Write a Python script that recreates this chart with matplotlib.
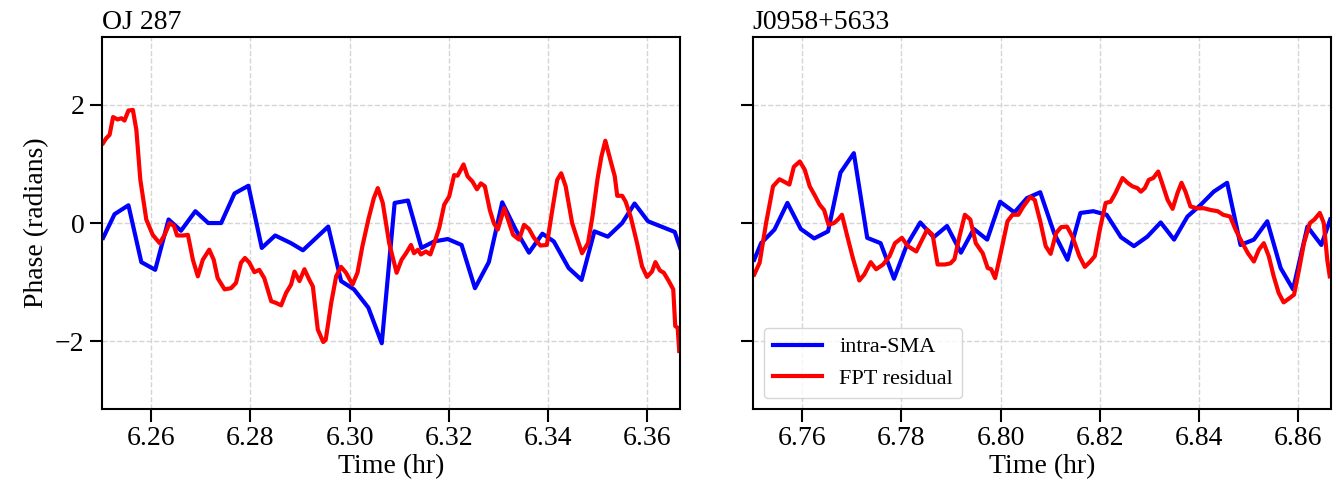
import numpy as np
import matplotlib
matplotlib.use('Agg')
import matplotlib.pyplot as plt

plt.rcParams['font.family'] = ['Liberation Serif', 'DejaVu Serif']

# OJ 287 -- intra-SMA phase
t_oj_sma = [6.2503, 6.2526, 6.2554, 6.2580, 6.2608, 6.2635, 6.2660, 6.2689,
            6.2715, 6.2741, 6.2768, 6.2796, 6.2823, 6.2850, 6.2882, 6.2906,
            6.2957, 6.2983, 6.3009, 6.3038, 6.3065, 6.3091, 6.3118, 6.3145,
            6.3171, 6.3198, 6.3226, 6.3253, 6.3281, 6.3308, 6.3335, 6.3362,
            6.3389, 6.3412, 6.3442, 6.3468, 6.3494, 6.3521, 6.3550, 6.3575,
            6.3602, 6.3629, 6.3656, 6.3667]
p_oj_sma = [-0.25, 0.15, 0.30, -0.66, -0.79, 0.06, -0.13, 0.20,
            0.00, 0.00, 0.50, 0.63, -0.42, -0.21, -0.34, -0.46,
            -0.06, -0.98, -1.12, -1.43, -2.03, 0.34, 0.38, -0.42,
            -0.31, -0.27, -0.37, -1.10, -0.66, 0.35, -0.11, -0.50,
            -0.18, -0.31, -0.76, -0.96, -0.14, -0.23, 0.00, 0.33,
            0.03, -0.06, -0.15, -0.42]

# OJ 287 -- FPT residual phase
t_oj_fpt = [6.2503, 6.2509, 6.2516, 6.2523, 6.2532, 6.2540, 6.2546, 6.2554,
            6.2563, 6.2570, 6.2578, 6.2590, 6.2603, 6.2617, 6.2627, 6.2637,
            6.2646, 6.2652, 6.2664, 6.2674, 6.2684, 6.2694, 6.2704, 6.2717,
            6.2726, 6.2734, 6.2748, 6.2761, 6.2771, 6.2781, 6.2789, 6.2798,
            6.2808, 6.2818, 6.2828, 6.2842, 6.2852, 6.2862, 6.2872, 6.2882,
            6.2889, 6.2899, 6.2909, 6.2919, 6.2926, 6.2936, 6.2947, 6.2952,
            6.2963, 6.2973, 6.2983, 6.2993, 6.3006, 6.3016, 6.3026, 6.3038,
            6.3049, 6.3057, 6.3067, 6.3080, 6.3095, 6.3105, 6.3114, 6.3124,
            6.3130, 6.3138, 6.3144, 6.3154, 6.3163, 6.3171, 6.3181, 6.3191,
            6.3201, 6.3211, 6.3218, 6.3230, 6.3238, 6.3248, 6.3257, 6.3265,
            6.3273, 6.3283, 6.3291, 6.3299, 6.3312, 6.3322, 6.3330, 6.3342,
            6.3352, 6.3362, 6.3372, 6.3385, 6.3398, 6.3409, 6.3419, 6.3427,
            6.3436, 6.3449, 6.3461, 6.3469, 6.3481, 6.3490, 6.3500, 6.3508,
            6.3516, 6.3526, 6.3535, 6.3540, 6.3550, 6.3557, 6.3567, 6.3580,
            6.3590, 6.3600, 6.3610, 6.3617, 6.3626, 6.3634, 6.3644, 6.3653,
            6.3657, 6.3662, 6.3665]
p_oj_fpt = [1.35, 1.43, 1.49, 1.79, 1.75, 1.77, 1.73, 1.90,
            1.91, 1.57, 0.73, 0.06, -0.20, -0.34, -0.20, 0.00,
            -0.05, -0.21, -0.21, -0.20, -0.62, -0.90, -0.62, -0.45,
            -0.62, -0.93, -1.12, -1.10, -1.01, -0.67, -0.59, -0.67,
            -0.83, -0.79, -0.93, -1.32, -1.35, -1.39, -1.18, -1.04,
            -0.82, -0.98, -0.78, -0.96, -1.07, -1.80, -2.01, -1.97,
            -1.35, -0.90, -0.74, -0.84, -1.04, -0.84, -0.39, 0.06,
            0.42, 0.59, 0.34, -0.34, -0.84, -0.62, -0.51, -0.37,
            -0.51, -0.45, -0.53, -0.48, -0.53, -0.34, -0.08, 0.31,
            0.45, 0.81, 0.80, 0.99, 0.79, 0.70, 0.57, 0.67,
            0.62, 0.22, 0.00, -0.11, 0.25, 0.00, -0.20, -0.28,
            -0.03, -0.10, -0.25, -0.38, -0.37, 0.22, 0.73, 0.84,
            0.62, 0.00, -0.31, -0.51, -0.34, 0.11, 0.73, 1.12,
            1.39, 1.07, 0.79, 0.46, 0.46, 0.36, 0.11, -0.34,
            -0.73, -0.91, -0.82, -0.66, -0.80, -0.84, -0.98, -1.12,
            -1.74, -1.77, -2.16]

# J0958+5633 -- intra-SMA phase
t_j09_sma = [6.7503, 6.7517, 6.7544, 6.7570, 6.7597, 6.7624, 6.7652, 6.7677,
             6.7704, 6.7731, 6.7758, 6.7785, 6.7811, 6.7838, 6.7865, 6.7892,
             6.7920, 6.7946, 6.7973, 6.7999, 6.8028, 6.8053, 6.8080, 6.8108,
             6.8135, 6.8161, 6.8187, 6.8214, 6.8243, 6.8269, 6.8296, 6.8323,
             6.8350, 6.8377, 6.8404, 6.8430, 6.8457, 6.8484, 6.8511, 6.8538,
             6.8565, 6.8590, 6.8619, 6.8647, 6.8665]
p_j09_sma = [-0.62, -0.34, -0.11, 0.34, -0.10, -0.26, -0.14, 0.85,
             1.18, -0.25, -0.34, -0.94, -0.37, 0.01, -0.24, -0.05,
             -0.50, -0.10, -0.28, 0.36, 0.18, 0.42, 0.52, -0.17,
             -0.62, 0.17, 0.20, 0.14, -0.24, -0.39, -0.23, 0.01,
             -0.28, 0.11, 0.31, 0.53, 0.68, -0.37, -0.28, 0.03,
             -0.76, -1.12, -0.06, -0.37, 0.06]

# J0958+5633 -- FPT residual phase
t_j09_fpt = [6.7503, 6.7514, 6.7527, 6.7541, 6.7554, 6.7563, 6.7574, 6.7583,
             6.7595, 6.7605, 6.7615, 6.7625, 6.7635, 6.7644, 6.7653, 6.7664,
             6.7672, 6.7680, 6.7691, 6.7702, 6.7715, 6.7725, 6.7738, 6.7749,
             6.7763, 6.7776, 6.7787, 6.7801, 6.7813, 6.7830, 6.7840, 6.7852,
             6.7863, 6.7873, 6.7888, 6.7899, 6.7907, 6.7917, 6.7928, 6.7939,
             6.7950, 6.7964, 6.7974, 6.7981, 6.7989, 6.8001, 6.8014, 6.8024,
             6.8036, 6.8046, 6.8060, 6.8069, 6.8080, 6.8091, 6.8101, 6.8112,
             6.8122, 6.8134, 6.8145, 6.8159, 6.8170, 6.8181, 6.8190, 6.8201,
             6.8212, 6.8222, 6.8232, 6.8246, 6.8256, 6.8266, 6.8276, 6.8283,
             6.8291, 6.8299, 6.8308, 6.8318, 6.8326, 6.8337, 6.8347, 6.8357,
             6.8365, 6.8373, 6.8383, 6.8396, 6.8410, 6.8424, 6.8438, 6.8449,
             6.8463, 6.8474, 6.8488, 6.8499, 6.8511, 6.8521, 6.8531, 6.8541,
             6.8551, 6.8561, 6.8571, 6.8581, 6.8592, 6.8602, 6.8612, 6.8624,
             6.8633, 6.8644, 6.8652, 6.8659, 6.8664]
p_j09_fpt = [-0.87, -0.67, 0.00, 0.62, 0.74, 0.70, 0.65, 0.95,
             1.04, 0.90, 0.62, 0.47, 0.31, 0.22, -0.03, 0.00,
             0.06, 0.14, -0.23, -0.59, -0.97, -0.87, -0.66, -0.78,
             -0.70, -0.56, -0.34, -0.25, -0.39, -0.48, -0.31, -0.11,
             -0.20, -0.70, -0.70, -0.68, -0.61, -0.23, 0.14, 0.06,
             -0.34, -0.51, -0.76, -0.78, -0.93, -0.48, 0.03, 0.14,
             0.14, 0.28, 0.44, 0.39, 0.03, -0.39, -0.52, -0.17,
             -0.07, -0.06, -0.23, -0.56, -0.74, -0.65, -0.56, -0.08,
             0.34, 0.36, 0.51, 0.76, 0.68, 0.62, 0.59, 0.53,
             0.59, 0.73, 0.76, 0.87, 0.67, 0.39, 0.24, 0.51,
             0.68, 0.53, 0.28, 0.25, 0.25, 0.22, 0.20, 0.14,
             0.11, -0.11, -0.34, -0.51, -0.65, -0.45, -0.34, -0.56,
             -0.90, -1.18, -1.34, -1.28, -1.21, -0.79, -0.34, 0.00,
             0.06, 0.17, 0.00, -0.62, -0.90]

titles = ['OJ 287', 'J0958+5633']
starts = [6.25, 6.75]
span = 7 / 60.0
xticks = [[6.26, 6.28, 6.30, 6.32, 6.34, 6.36],
          [6.76, 6.78, 6.80, 6.82, 6.84, 6.86]]

fig = plt.figure(figsize=(13.36, 4.87), dpi=100)
ax1 = fig.add_axes([0.0761, 0.160, 0.4329, 0.764])
ax2 = fig.add_axes([0.5634, 0.160, 0.4329, 0.764], sharey=ax1)

data = [(t_oj_sma, p_oj_sma, t_oj_fpt, p_oj_fpt),
        (t_j09_sma, p_j09_sma, t_j09_fpt, p_j09_fpt)]

for i, ax in enumerate([ax1, ax2]):
    ts, ps, tf, pf = data[i]
    ax.plot(ts, ps, c='blue', lw=3, label='intra-SMA')
    ax.plot(tf, pf, c='red', lw=3, label='FPT residual')
    ax.set_xlim(starts[i], starts[i] + span)
    ax.set_ylim(-np.pi, np.pi)
    ax.set_xticks(xticks[i])
    ax.set_xticklabels([f'{v:.2f}' for v in xticks[i]])
    ax.set_yticks([-2, 0, 2])
    ax.grid(True, ls='--', lw=1, color='#d5d5d5')
    ax.set_axisbelow(True)
    ax.tick_params(labelsize=20, length=9, width=1.5)
    for s in ax.spines.values():
        s.set_linewidth(1.5)
    ax.set_xlabel('Time (hr)', fontsize=20, labelpad=2)
    ax.set_title(titles[i], loc='left', fontsize=20, pad=6)

ax1.set_ylabel('Phase (radians)', fontsize=20)
ax2.tick_params(labelleft=False)
ax2.legend(loc='lower left', fontsize=16, handlelength=2.2)

fig.savefig('out.png', dpi=100)
